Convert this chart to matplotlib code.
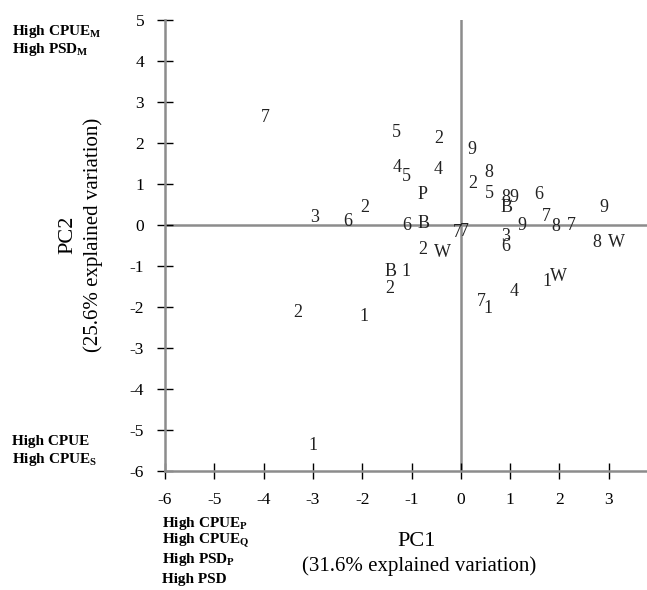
import matplotlib
matplotlib.use("Agg")
import matplotlib.pyplot as plt

plt.rcParams['font.family'] = ['Liberation Serif', 'DejaVu Serif']
plt.rcParams['mathtext.fontset'] = 'custom'
plt.rcParams['mathtext.rm'] = 'Liberation Serif'
plt.rcParams['mathtext.it'] = 'Liberation Serif'
plt.rcParams['mathtext.bf'] = 'Liberation Serif:bold'
plt.rcParams['axes.unicode_minus'] = False

# Point labels and PCA scores
labels = ["7", "5", "2", "9", "4", "5", "4", "8", "2", "P", "5", "8", "9", "6",
          "2", "B", "9", "3", "6", "6", "B", "7", "7", "9", "7", "8", "7", "3",
          "6", "8", "W", "2", "W", "B", "1", "1", "W", "2", "4", "7", "1", "2",
          "1", "1"]
pc1 = [-3.96, -1.30, -0.45, 0.22, -1.30, -1.10, -0.45, 0.57, 0.24, -0.77, 0.57,
       0.91, 1.08, 1.58, -1.95, 0.93, 2.90, -2.96, -2.29, -1.10, -0.75, -0.08,
       0.08, 1.24, 1.74, 1.93, 2.25, 0.91, 0.91, 2.76, 3.16, -0.77, -0.37,
       -1.42, -1.12, 1.74, 1.99, -1.44, 1.08, 0.41, 0.55, -3.31, -1.97, -3.00]
pc2 = [2.61, 2.24, 2.10, 1.83, 1.39, 1.17, 1.34, 1.27, 1.00, 0.73, 0.76,
       0.66, 0.66, 0.73, 0.41, 0.41, 0.41, 0.17, 0.07, -0.02, 0.02, -0.20,
       -0.17, -0.02, 0.20, -0.05, -0.02, -0.29, -0.54, -0.44, -0.44, -0.61,
       -0.68, -1.15, -1.15, -1.39, -1.27, -1.56, -1.63, -1.88, -2.05, -2.15,
       -2.24, -5.37]

x_ticks = [-6, -5, -4, -3, -2, -1, 0, 1, 2, 3, 4]
y_ticks = [-6, -5, -4, -3, -2, -1, 0, 1, 2, 3, 4, 5]

W, H = 647, 590
fig = plt.figure(figsize=(W / 100, H / 100), dpi=100)
ax = fig.add_axes([165 / W, 119 / H, 493 / W, 451.5 / H])
ax.set_xlim(-6, 4)
ax.set_ylim(-6, 5)

grey = '#8c8c8c'
for s in ['top', 'right']:
    ax.spines[s].set_visible(False)
for s in ['left', 'bottom']:
    ax.spines[s].set_color(grey)
    ax.spines[s].set_linewidth(1.8)
ax.axhline(0, color=grey, lw=1.8, zorder=1)
ax.axvline(0, color=grey, lw=1.8, zorder=1)

ax.set_xticks(x_ticks)
ax.set_yticks(y_ticks)
ax.tick_params(direction='inout', length=12, width=1.0, color='black',
               labelsize=12.5, pad=9)

for lab, x, y in zip(labels, pc1, pc2):
    ax.text(x, y, lab, ha='center', va='center', fontsize=13, color='#222222', zorder=3)

# Axis titles
fig.text(417 / W, 1 - 541 / H, "PC1", ha='center', va='center', fontsize=16)
fig.text(419 / W, 1 - 566 / H, "(31.6% explained variation)", ha='center',
         va='center', fontsize=15)
fig.text(68 / W, 1 - 235 / H, "PC2", ha='center', va='center', fontsize=16,
         rotation=90)
fig.text(93 / W, 1 - 235 / H, "(25.6% explained variation)", ha='center',
         va='center', fontsize=15, rotation=90)

# Corner annotations
cfs = 11
kw = dict(ha='left', va='center', fontsize=cfs, fontweight='bold')
fig.text(12 / W, 1 - 31 / H, r"High CPUE$_{\mathbf{M}}$", **kw)
fig.text(12 / W, 1 - 49 / H, r"High PSD$_{\mathbf{M}}$", **kw)
fig.text(12 / W, 1 - 441 / H, "High CPUE", **kw)
fig.text(12 / W, 1 - 459 / H, r"High CPUE$_{\mathbf{S}}$", **kw)
fig.text(162 / W, 1 - 523 / H, r"High CPUE$_{\mathbf{P}}$", **kw)
fig.text(162 / W, 1 - 541 / H, r"High CPUE$_{\mathbf{Q}}$", **kw)
fig.text(162 / W, 1 - 560 / H, r"High PSD$_{\mathbf{P}}$", **kw)
fig.text(162 / W, 1 - 579 / H, "High PSD", **kw)

fig.savefig("out.png", dpi=100)
